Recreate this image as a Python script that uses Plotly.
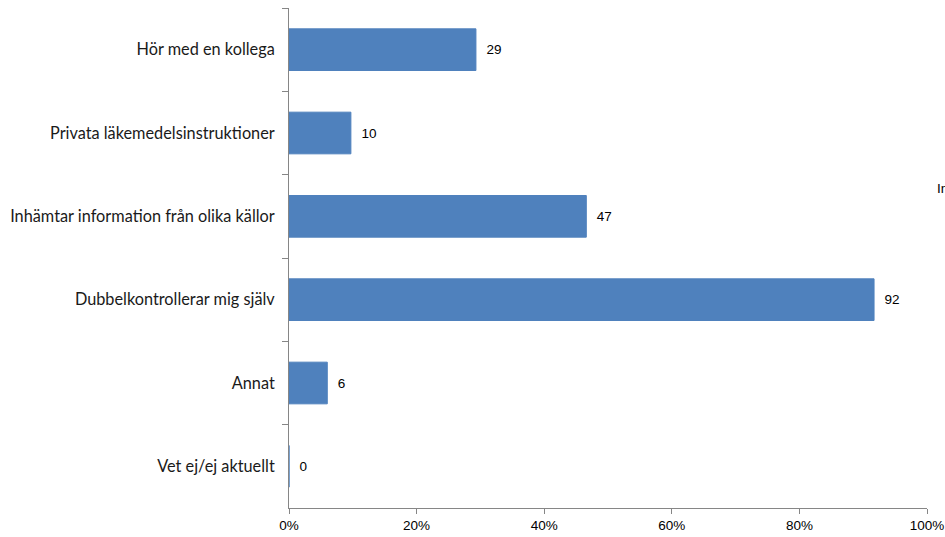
import plotly.graph_objects as go

categories = [
    "Hör med en kollega",
    "Privata läkemedelsinstruktioner",
    "Inhämtar information från olika källor",
    "Dubbelkontrollerar mig själv",
    "Annat",
    "Vet ej/ej aktuellt",
]
percent_values = [29.3, 9.7, 46.6, 91.7, 6.0, 0.0]
x_tick_values = [0, 20, 40, 60, 80, 100]
x_tick_labels = ["0%", "20%", "40%", "60%", "80%", "100%"]
edge_text = "Inhämtar information från olika källor"

fig = go.Figure()
fig.add_trace(go.Bar(
    y=categories,
    x=percent_values,
    orientation="h",
    width=0.5,
    marker=dict(color="#4F81BD", line=dict(color="#4F81BD", width=1)),
    texttemplate="  %{x:.0f}",
    textposition="outside",
    textfont=dict(family="Liberation Sans, Arial", size=13.5, color="#000000"),
    cliponaxis=False,
    hoverinfo="skip",
))

fig.update_layout(
    width=945, height=537,
    margin=dict(l=289, r=18, t=8, b=29),
    paper_bgcolor="white", plot_bgcolor="white",
    showlegend=False,
    bargap=0.5,
)
fig.update_yaxes(
    type="category",
    categoryorder="array", categoryarray=categories,
    autorange="reversed",
    automargin=False,
    showline=True, linecolor="#868686", linewidth=1,
    ticks="outside", tickson="boundaries", ticklen=6, tickcolor="#868686",
    ticklabelstandoff=10,
    tickfont=dict(family="Lato, Open Sans, sans-serif", size=16.3, color="#1a1a1a"),
    showgrid=False, zeroline=False,
)
fig.update_xaxes(
    range=[0, 100],
    automargin=False,
    tickvals=x_tick_values, ticktext=x_tick_labels,
    showline=True, linecolor="#868686", linewidth=1,
    ticks="outside", ticklen=5, tickcolor="#868686",
    tickfont=dict(family="Liberation Sans, Arial", size=13.5, color="#000000"),
    showgrid=False, zeroline=False,
)
fig.add_annotation(
    xref="paper", yref="paper", x=1.0125, y=0.64,
    xanchor="left", yanchor="middle", showarrow=False,
    text=edge_text,
    font=dict(family="Liberation Sans, Arial", size=13.5, color="#000000"),
)

fig.write_html(
    "out.html",
    config={"displayModeBar": False},
    post_script="document.body.style.margin='0';document.body.style.overflow='hidden';",
)
